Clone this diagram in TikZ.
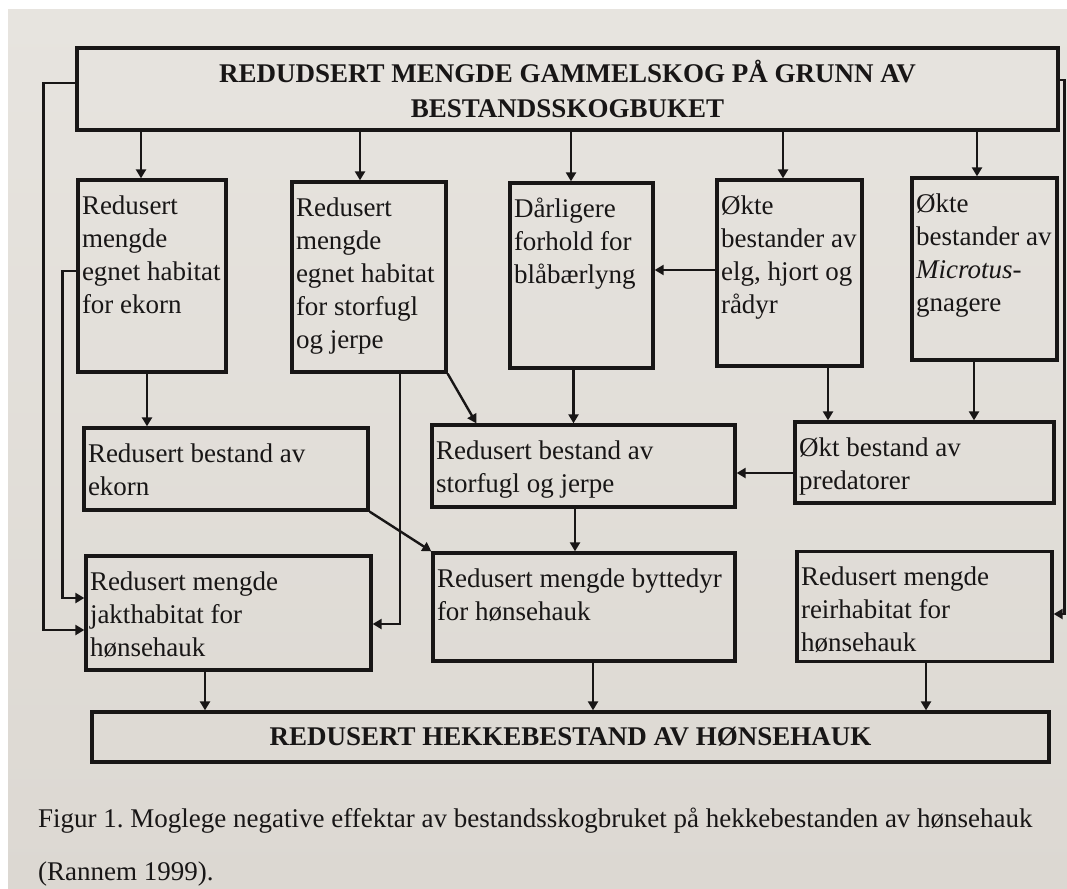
\documentclass[tikz,border=0pt]{standalone}
\usepackage{fontspec}
\setmainfont{Liberation Serif}
\usetikzlibrary{arrows.meta}

\definecolor{ink}{RGB}{24,22,22}
\definecolor{papertop}{RGB}{231,228,223}
\definecolor{paperbot}{RGB}{220,216,210}

% box text: top aligned, fixed size (width, height in px)
\newcommand{\boxtext}[3]{\parbox[c][#2pt][t]{\dimexpr#1pt-8pt\relax}{\raggedright\rule{0pt}{34pt}#3}}

\tikzset{
  box/.style={draw=ink, line width=3.3pt, inner xsep=4pt, inner ysep=0pt, text=ink,
    font=\fontsize{27}{33}\selectfont},
  headbox/.style={draw=ink, line width=3.3pt, inner sep=0pt, align=center, text=ink,
    font=\fontsize{27}{35}\selectfont\bfseries},
  link/.style={color=ink, line width=2.4pt, -{Triangle[length=9pt,width=10pt]}},
  caption/.style={anchor=base west, inner sep=0pt, text=ink, font=\fontsize{27}{32}\selectfont},
}

\begin{document}
\frenchspacing
\begin{tikzpicture}[x=1pt, y=-1pt]
        \useasboundingbox (0,0) rectangle (1067,888);
        \fill[white] (0,0) rectangle (1067,888);
        \shade[top color=papertop, bottom color=paperbot] (8,10) rectangle (1067,888);

        \node[headbox, minimum width=981pt, minimum height=82pt] at (567.5, 89)(top){REDUDSERT MENGDE GAMMELSKOG PÅ GRUNN AV\\BESTANDSSKOGBUKET};

        \node[box] at (152, 276)(ekornhab){\boxtext{148}{192}{Redusert\\mengde\\egnet habitat\\for ekorn}};
        \node[box] at (369, 277)(fuglhab){\boxtext{154}{190}{Redusert\\mengde\\egnet habitat\\for storfugl\\og jerpe}};
        \node[box] at (581.5, 275.5)(lyng){\boxtext{143}{185}{Dårligere\\forhold for\\blåbærlyng}};
        \node[box] at (789.5, 273)(hjort){\boxtext{145}{186}{Økte\\bestander av\\elg, hjort og\\rådyr}};
        \node[box] at (984.5, 269)(gnager){\boxtext{145}{182}{Økte\\bestander av\\\textit{Microtus}-\\gnagere}};

        \node[box] at (226, 469)(ekorn){\boxtext{284}{82}{Redusert bestand av\\ekorn}};
        \node[box] at (583.5, 466)(fugl){\boxtext{303}{82}{Redusert bestand av\\storfugl og jerpe}};
        \node[box] at (924.5, 462.5)(pred){\boxtext{259}{81}{Økt bestand av\\predatorer}};

        \node[box] at (228.5, 613)(jakt){\boxtext{285}{114}{Redusert mengde\\jakthabitat for\\hønsehauk}};
        \node[box] at (584, 607)(bytte){\boxtext{302}{108}{Redusert mengde byttedyr\\for hønsehauk}};
        \node[box] at (924.5, 606.5)(reir){\boxtext{255}{110}{Redusert mengde\\reirhabitat for\\hønsehauk}};

        \node[headbox, minimum width=957pt, minimum height=50pt] at (570.5, 737)(hekke){REDUSERT HEKKEBESTAND AV HØNSEHAUK};

        \node[caption] at (38, 827)(fig){Figur 1. Moglege negative effektar av bestandsskogbruket på hekkebestanden av hønsehauk};
        \node[caption] at (38, 880)(kilde){(Rannem 1999).};

        \path[link]
        ([xshift=-11]ekornhab.north |- top.south)edge([xshift=-11]ekornhab.north)
        ([xshift=-9]fuglhab.north |- top.south)edge([xshift=-9]fuglhab.north)
        ([xshift=-10.5]lyng.north |- top.south)edge([xshift=-10.5]lyng.north)
        ([xshift=-6.5]hjort.north |- top.south)edge([xshift=-6.5]hjort.north)
        ([xshift=-7.5]gnager.north |- top.south)edge([xshift=-7.5]gnager.north)
        ([yshift=3]hjort.west)edge([yshift=3]hjort.west -| lyng.east)
        ([xshift=-5]ekornhab.south)edge([xshift=-5]ekornhab.south |- ekorn.north)
        (fuglhab.south east)edge([xshift=46]fugl.north west)
        ([xshift=-8]lyng.south)edge([xshift=-8]lyng.south |- fugl.north)
        ([xshift=38.5]hjort.south)edge([xshift=38.5]hjort.south |- pred.north)
        ([xshift=-10.5]gnager.south)edge([xshift=-10.5]gnager.south |- pred.north)
        ([yshift=-10.5]pred.west)edge([yshift=-10.5]pred.west -| fugl.east)
        ([xshift=-8.5]fugl.south)edge([xshift=-8.5]fugl.south |- bytte.north)
        (ekorn.south east)edge(bytte.north west)
        ([xshift=-23.5]jakt.south)edge([xshift=-23.5]jakt.south |- hekke.north)
        ([xshift=9]bytte.south)edge([xshift=9]bytte.south |- hekke.north)
        ([xshift=1.5]reir.south)edge([xshift=1.5]reir.south |- hekke.north)
        ;

        % side lines
        \draw[link] ([yshift=6]top.west) -- ++(-32,0) |- ([yshift=-17]jakt.west);
        \draw[link] ([yshift=5]ekornhab.west) -- ++(-14,0) |- ([yshift=15]jakt.west);
        \draw[link] ([xshift=31]fuglhab.south) |- ([yshift=-11]jakt.east);
        \draw[link] ([yshift=9]top.east) -- ++(5,0) |- ([yshift=-7.5]reir.east);
    \end{tikzpicture}
\end{document}
